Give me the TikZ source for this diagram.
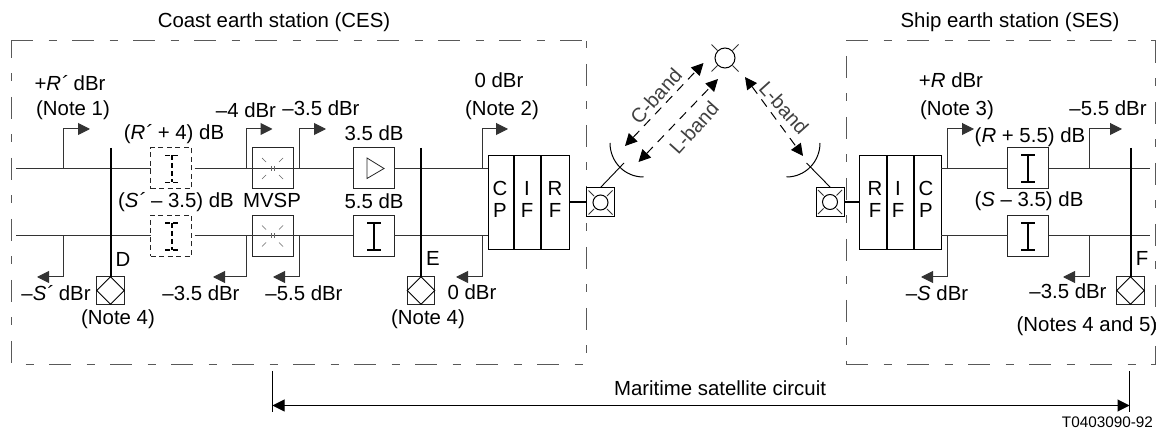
\documentclass[tikz,border=0pt]{standalone}
\usepackage{fontspec}
\setmainfont{Liberation Sans}
\usetikzlibrary{arrows.meta}
\tikzset{
  lab/.style={inner sep=0pt,outer sep=0pt,font=\fontsize{20.4}{22}\selectfont,text height=15pt,text depth=4.5pt,anchor=center},
  smalllab/.style={inner sep=0pt,outer sep=0pt,font=\fontsize{15.3}{17}\selectfont},
  bandlab/.style={inner sep=0pt,outer sep=0pt,font=\fontsize{20}{22}\selectfont,text=black!75},
  sig/.style={draw=black!80,line width=1pt},
  boxn/.style={draw=black!85,line width=1pt,fill=white,inner sep=0pt,outer sep=0pt,minimum width=41pt,minimum height=41pt},
  dashbox/.style={draw=black!85,line width=1pt,inner sep=0pt,outer sep=0pt,minimum width=41pt,minimum height=41pt,dash pattern=on 5pt off 3.5pt},
  testbox/.style={draw=black!85,line width=1pt,fill=white,inner sep=0pt,outer sep=0pt,minimum width=27.5pt,minimum height=27.5pt},
  antbox/.style={draw=black,line width=1pt,fill=white,inner sep=0pt,outer sep=0pt,minimum width=28.5pt,minimum height=29pt},
  unitbox/.style={draw=black,line width=1pt,fill=white,inner sep=0pt,outer sep=0pt,minimum height=94pt},
  thick line/.style={line width=2pt,draw=black},
  divider/.style={line width=1.6pt,draw=black},
  tiplevel/.style={sig,-{Triangle[length=12pt,width=12pt]}},
  frameline/.style={draw=black!65,line width=1pt},
  longpat/.style={dash pattern=on 22pt off 15.5pt on 8pt off 15.5pt},
  thin mark/.style={draw=black!60,line width=.7pt},
  serif/.style={line width=1.8pt,draw=black},
  bandarrow/.style={line width=1pt,draw=black,dash pattern=on 9pt off 7pt,{Triangle[length=12pt,width=12pt]}-{Triangle[length=12pt,width=12pt]}},
  circ/.style={circle,draw=black,line width=1pt,inner sep=0pt,outer sep=0pt},
  dimline/.style={line width=1pt,draw=black}
}
\newcommand{\ibeam}[3][]{%
  \draw[serif,#1] (#2-7,#3-13.5) -- (#2+7,#3-13.5);
  \draw[serif,#1] (#2-7,#3+13.5) -- (#2+7,#3+13.5);
  \draw[serif,#1] (#2,#3-13.5) -- (#2,#3+13.5);}
\newcommand{\vsp}[2]{%
  \foreach \sx in {-1,1}{\foreach \sy in {-1,1}{
    \draw[thin mark] (#1+\sx*6.5,#2+\sy*6.5) -- (#1+\sx*10.5,#2+\sy*10.5);}
    \draw[thin mark] (#1+\sx*1.5,#2-2.5) -- (#1+\sx*1.5,#2+2.5);}}
\newcommand{\whisk}[4]{%
  \foreach \sx in {-1,1}{\foreach \sy in {-1,1}{
    \draw[line width=.8pt,draw=black!80] (#1+\sx*#3,#2+\sy*#3) -- (#1+\sx*#4,#2+\sy*#4);}}}
\newcommand{\rhomb}[1]{\draw[line width=1pt] (#1.north) -- (#1.east) -- (#1.south) -- (#1.west) -- cycle;}
\begin{document}
\begin{tikzpicture}[x=1pt,y=-1pt]
\useasboundingbox (0,0) rectangle (1160,430);
% frames
\draw[frameline,longpat] (11,41) -- (586,41);
\draw[frameline,longpat,dash phase=5pt] (11,41) -- (11,365);
\draw[frameline,longpat,dash phase=23pt] (11,365) -- (586,365);
\draw[frameline,longpat,dash phase=38pt] (586,41) -- (586,365);
\draw[frameline,longpat] (846,41) -- (1155.5,41);
\draw[frameline,longpat,dash phase=46pt] (846,41) -- (846,365);
\draw[frameline,longpat] (846,365) -- (1155.5,365);
\draw[frameline,longpat,dash phase=0pt] (1155.5,41) -- (1155.5,365);
% left side nodes
\node[dashbox] (ra) at (171,168.5) {};
\node[dashbox] (sa) at (171,236) {};
\node[boxn] (m1) at (272.5,168.5) {};
\node[boxn] (m2) at (272.5,236) {};
\node[boxn] (amp) at (373.5,168.5) {};
\node[boxn] (pad) at (373.5,236) {};
\node[unitbox,minimum width=81.5pt] (ces) at (528.75,202.5) {};
\node[testbox] (tD) at (110.5,290.5) {};
\node[testbox] (tE) at (421,290.5) {};
\node[testbox] (tF) at (1130.5,290.5) {};
\node[antbox] (aL) at (600.5,202) {};
\node[antbox] (aR) at (830.5,202) {};
\node[unitbox,minimum width=82pt] (ses) at (900,202.5) {};
\node[boxn] (p1) at (1028,168.5) {};
\node[boxn] (p2) at (1028,236) {};
% coordinates
\coordinate (L1) at (16,168.5);
\coordinate (L2) at (16,236);
\coordinate (R1) at (1150,168.5);
\coordinate (R2) at (1150,236);
\coordinate (D) at (110.5,148);
\coordinate (E) at (421,148);
\coordinate (F) at (1130.5,148);
% signal lines
\draw[sig] (L1) -- (ra.west);
\draw[sig] (L2) -- (sa.west);
\draw[sig,shorten <=3pt] (ra.east) -- (m1.west);
\draw[sig,shorten <=3pt] (sa.east) -- (m2.west);
\draw[sig] (m1.west) -- (amp.west);
\draw[sig] (m2.west) -- (pad.west);
\draw[sig] (amp.east) -- (ces.west |- amp.east);
\draw[sig] (pad.east) -- (ces.west |- pad.east);
\draw[sig] (ses.east |- p1.west) -- (p1.west);
\draw[sig] (ses.east |- p2.west) -- (p2.west);
\draw[sig] (p1.east) -- (R1);
\draw[sig] (p2.east) -- (R2);
% thick
\draw[thick line] (D) -- (tD.north);
\draw[thick line] (E) -- (tE.north);
\draw[thick line] (F) -- (tF.north);
\draw[thick line] (ces.east |- aL.west) -- (aL.west);
\draw[thick line] (aR.east) -- (ses.west |- aR.east);
\rhomb{tD}\rhomb{tE}\rhomb{tF}
% level arrows
\foreach \n/\x/\y/\tx/\ty in {a/63.5/168.5/90/129, b/246/168.5/272.5/129, c/299/168.5/326/129, d/482/168.5/508/129, e/947/168.5/974/129, f/1089/168.5/1122/129,
  g/63.5/236/37/277, h/246/236/213/277, i/299/236/273/277, j/482/236/456/277, k/947/236/921/277, l/1089/236/1063/277}{
  \coordinate (s\n) at (\x,\y);
  \coordinate (t\n) at (\tx,\ty);
  \draw[tiplevel] (s\n) |- (t\n);
}
% contents
\ibeam[dash pattern=on 5pt off 3pt]{172}{169}
\ibeam[dash pattern=on 5pt off 3pt]{172}{236.5}
\vsp{272.5}{168.5}
\vsp{272.5}{236}
\draw[line width=.8pt,draw=black!85] (367,158) -- (367,178.5) -- (384,168.5) -- cycle;
\ibeam{374}{236.5}
\ibeam{1028}{168.5}
\ibeam{1028}{236.5}
\draw[divider] (514,155.5) -- (514,249.5);
\draw[divider] (541,155.5) -- (541,249.5);
\draw[divider] (887,155.5) -- (887,249.5);
\draw[divider] (914,155.5) -- (914,249.5);
% antennas
\node[circ,minimum size=15pt] (cL) at (600.5,202.5) {};
\node[circ,minimum size=15pt] (cR) at (830,202) {};
\whisk{600.5}{202.5}{6.5}{12}
\whisk{830}{202}{6.5}{12}
\node[circ,minimum size=20pt] (sat) at (725,58) {};
\whisk{725}{58}{7.5}{13.5}
\coordinate (fL) at (624,163);
\coordinate (fR) at (806.5,163);
\draw[line width=.9pt] (aL.north) -- (fL);
\draw[line width=.9pt] (aR.north) -- (fR);
\coordinate (dLa) at (610,143);
\coordinate (dLb) at (643.5,177);
\coordinate (dRa) at (820,143);
\coordinate (dRb) at (786.5,177);
\draw[line width=1pt] (dLa) .. controls (610,161.8) and (624.7,177) .. (dLb);
\draw[line width=1pt] (dRa) .. controls (820,161.8) and (805.3,177) .. (dRb);
% band arrows
\coordinate (c1) at (625,146);
\coordinate (c2) at (703.5,63);
\coordinate (l1) at (638.5,162);
\coordinate (l2) at (718,79);
\coordinate (r1) at (745,77);
\coordinate (r2) at (803,156);
\draw[bandarrow] (c1) -- (c2);
\draw[bandarrow] (l1) -- (l2);
\draw[bandarrow] (r1) -- (r2);
\node[bandlab,rotate=48] (bc) at (656,96) {C-band};
\node[bandlab,rotate=48] (bl) at (694,128) {L-band};
\node[bandlab,rotate=-48] (br) at (784,108) {L-band};
% dimension
\coordinate (da) at (272.5,371);
\coordinate (db) at (272.5,412);
\coordinate (dc) at (1129.5,371);
\coordinate (dd) at (1129.5,412);
\coordinate (de) at (272.5,405.5);
\coordinate (df) at (1129.5,405.5);
\draw[dimline] (da) -- (db);
\draw[dimline] (dc) -- (dd);
\draw[dimline,{Triangle[length=12pt,width=12pt]}-{Triangle[length=12pt,width=12pt]}] (de) -- (df);
% labels
\node[lab] (n1) at (274,22) {Coast earth station (CES)};
\node[lab] (n2) at (1010,22) {Ship earth station (SES)};
\node[lab] (n3) at (70,85) {+\textit{R´} dBr};
\node[lab] (n4) at (73,110) {(Note 1)};
\node[lab] (n5) at (174,134) {(\textit{R´} + 4) dB};
\node[lab] (n6) at (176,202) {(\textit{S´} – 3.5) dB};
\node[lab] (n7) at (272,202) {MVSP};
\node[lab] (n8) at (246,112) {–4 dBr};
\node[lab] (n9) at (321,110) {–3.5 dBr};
\node[lab] (n10) at (374,135) {3.5 dB};
\node[lab] (n11) at (374,203) {5.5 dB};
\node[lab] (n12) at (499,82) {0 dBr};
\node[lab] (n13) at (502,110) {(Note 2)};
\node[lab] (n14) at (500,190) {C};
\node[lab] (n15) at (500,212) {P};
\node[lab] (n16) at (527,190) {I};
\node[lab] (n17) at (527,212) {F};
\node[lab] (n18) at (555,190) {R};
\node[lab] (n19) at (555,212) {F};
\node[lab] (n20) at (56,295) {–\textit{S´} dBr};
\node[lab] (n21) at (123,261) {D};
\node[lab] (n22) at (118,319) {(Note 4)};
\node[lab] (n23) at (201,295) {–3.5 dBr};
\node[lab] (n24) at (304,295) {–5.5 dBr};
\node[lab] (n25) at (433,260) {E};
\node[lab] (n26) at (472,294) {0 dBr};
\node[lab] (n27) at (428,319) {(Note 4)};
\node[lab] (n28) at (951,82) {+\textit{R} dBr};
\node[lab] (n29) at (957,110) {(Note 3)};
\node[lab] (n30) at (1030,137) {(\textit{R} + 5.5) dB};
\node[lab] (n31) at (1108,110) {–5.5 dBr};
\node[lab] (n32) at (1029,201) {(\textit{S} – 3.5) dB};
\node[lab] (n33) at (875,190) {R};
\node[lab] (n34) at (875,212) {F};
\node[lab] (n35) at (898,190) {I};
\node[lab] (n36) at (898,212) {F};
\node[lab] (n37) at (926,190) {C};
\node[lab] (n38) at (926,212) {P};
\node[lab] (n39) at (1142,260) {F};
\node[lab] (n40) at (937,295) {–\textit{S} dBr};
\node[lab] (n41) at (1068,293) {–3.5 dBr};
\node[lab] (n42) at (1087,326) {(Notes 4 and 5)};
\node[lab] (n43) at (720,390) {Maritime satellite circuit};
\node[smalllab] (n44) at (1107.5,422.5) {T0403090-92};
\end{tikzpicture}
\end{document}
